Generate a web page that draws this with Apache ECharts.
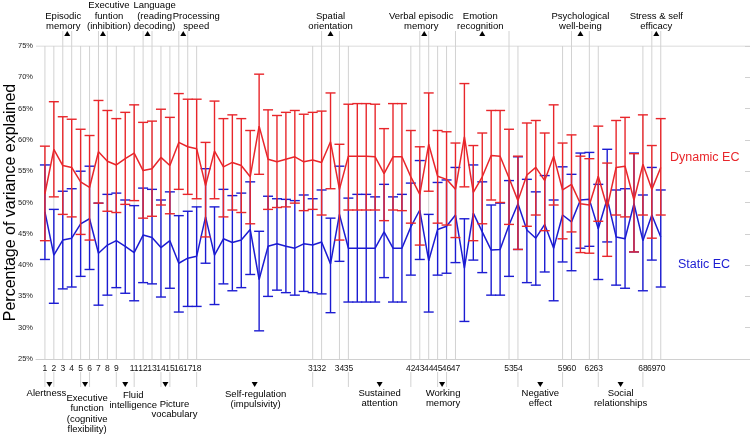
<!DOCTYPE html>
<html><head><meta charset="utf-8">
<script src="https://cdn.jsdelivr.net/npm/echarts@6/dist/echarts.min.js"></script>
<style>html,body{margin:0;padding:0;background:#fff}#c{width:750px;height:437px}</style>
</head><body><div id="c"></div>
<script>
const categories = [1,2,3,4,5,6,7,8,9,10,11,12,13,14,15,16,17,18,19,20,21,22,23,24,25,26,27,28,29,30,31,32,33,34,35,36,37,38,39,40,41,42,43,44,45,46,47,48,49,50,51,52,53,54,55,56,57,58,59,60,61,62,63,64,65,66,67,68,69,70];
const dynamicMean  = [51.4,58.5,55.9,55.6,53.3,52.4,58.1,56.6,56.0,57.0,57.9,55.1,55.4,57.2,55.9,59.6,58.9,58.6,52.7,58.2,55.7,56.4,55.9,54.1,62.2,56.9,56.5,56.9,57.3,56.5,56.8,56.4,59.7,52.1,57.4,57.4,57.4,57.3,54.6,57.3,57.3,54.1,51.3,59.3,54.2,53.7,52.1,60.5,51.6,54.1,57.5,57.4,53.9,50.3,54.4,55.6,53.5,57.4,52.0,52.9,49.8,49.6,54.2,49.2,55.6,55.8,50.4,56.1,52.1,55.6];
const dynamicUpper = [59.0,66.1,63.7,63.3,61.7,60.7,66.3,64.7,63.4,64.4,65.6,62.8,63.0,64.9,63.6,67.4,66.5,66.5,59.6,66.2,63.4,64.0,63.4,61.5,70.5,64.8,63.9,64.4,64.7,64.1,64.4,64.6,67.5,59.3,65.7,65.8,65.8,65.7,61.8,65.8,65.8,61.5,58.9,67.5,61.5,61.3,59.5,69.0,59.1,61.1,64.7,64.7,61.7,57.4,62.7,63.1,61.1,65.6,59.5,60.8,57.4,57.0,62.2,56.3,63.1,63.6,57.8,64.0,59.1,63.4];
const dynamicLower = [43.9,50.9,48.1,47.7,44.9,44.0,49.9,48.6,48.4,49.7,50.3,47.5,47.8,49.6,48.2,52.1,51.3,50.6,44.5,50.6,47.7,48.8,48.4,46.6,54.5,48.9,49.2,49.3,49.9,48.7,48.9,48.0,52.2,44.0,48.8,48.8,48.8,48.8,47.1,48.8,48.7,46.7,43.2,51.8,46.7,46.4,44.4,52.5,43.9,46.6,50.4,50.0,46.5,42.5,46.2,48.0,45.5,49.6,44.2,45.3,42.0,41.9,47.0,41.4,48.0,47.7,42.1,48.0,44.3,48.0];
const staticMean   = [48.5,41.6,44.0,44.3,46.6,47.4,41.9,43.2,43.9,43.0,42.0,44.8,44.4,42.8,43.9,40.3,41.1,41.4,47.7,41.6,44.2,43.6,44.0,45.7,37.7,43.0,43.4,43.0,42.7,43.4,43.2,43.7,40.2,48.1,42.7,42.7,42.7,42.7,45.3,42.7,42.7,46.1,48.8,40.7,45.7,46.2,48.0,39.5,48.3,45.3,42.4,42.5,46.4,49.8,45.6,44.3,46.5,42.7,48.0,46.9,50.4,50.5,45.8,50.6,44.5,44.2,49.8,43.9,48.0,44.5];
const staticUpper  = [56.0,48.9,51.8,52.2,55.0,55.8,49.9,51.3,51.5,50.4,49.5,52.3,52.1,50.4,51.7,47.9,48.6,49.3,55.4,49.3,52.1,51.1,51.5,53.3,45.4,51.0,50.6,50.5,50.3,51.2,50.6,52.0,47.5,55.8,50.7,51.3,51.3,50.9,52.9,50.9,51.3,53.1,56.7,48.1,53.2,53.6,55.6,47.4,56.0,53.3,49.6,49.9,53.5,57.3,53.7,51.7,54.3,50.4,55.7,54.5,57.9,58.0,52.9,58.5,52.0,52.2,57.9,51.2,55.6,52.0];
const staticLower  = [40.9,33.9,36.2,36.5,38.2,39.3,33.6,35.2,36.4,35.5,34.3,37.2,37.0,34.9,36.3,32.5,33.4,33.4,40.3,33.7,37.0,35.9,36.4,38.5,29.5,35.0,36.0,35.6,35.2,35.8,35.6,35.4,32.4,40.6,34.1,34.1,34.1,34.1,38.0,34.1,34.1,38.4,40.9,32.5,38.4,38.7,40.4,31.0,40.8,38.8,35.2,35.2,38.2,42.5,37.2,36.8,38.9,34.3,40.5,39.1,42.7,43.0,37.7,43.7,36.8,36.3,42.1,35.9,40.8,36.5];
const tickCategories = [1,2,3,4,5,6,7,8,9,11,12,13,14,15,16,17,18,31,32,34,35,42,43,44,45,46,47,53,54,59,60,62,63,68,69,70];
const topNames = ['Episodic\nmemory','Executive\nfuntion\n(inhibition)','Language\n(reading\ndecoding)','Processing\nspeed','Spatial\norientation','Verbal episodic\nmemory','Emotion\nrecognition','Psychological\nwell-being','Stress & self\nefficacy'];
const topFrom = [3,7,12,16,32,43,47,60,69];
const topTo   = [4,8,13,17,34,44,53,62,70];
const bottomNames = ['Alertness','Executive\nfunction\n(cognitive\nflexibility)','Fluid\nintelligence','Picture\nvocabulary','Self-regulation\n(impulsivity)','Sustained\nattention','Working\nmemory','Negative\neffect','Social\nrelationships'];
const bottomFrom = [1,5,9,14,18,35,45,54,63];
const bottomTo   = [2,6,11,15,31,42,46,59,68];
const seriesNames = ['Dynamic EC','Static EC'];

// layout tweaks (pixels) for annotation text
const topDx = [-4,6,7,13,0,-3,-2,0,0];
const bottomDx = [-3,2,8,9,1,0,1,0,0];
const bottomDy = [0,5,2,11,1,0,0,0,0];

const RED = '#e8262b', BLUE = '#1c1cd2', GRAY = '#d2d2d2';
const FONT = '"Liberation Sans", Arial, sans-serif';

function errRender(color){
  return function(params, api){
    const x = api.value(0);
    const hi = api.coord([x, api.value(1)]);
    const lo = api.coord([x, api.value(2)]);
    const h = 5;
    const st = {stroke: color, lineWidth: 1.4};
    return {type:'group', children:[
      {type:'line', shape:{x1:hi[0],y1:hi[1],x2:lo[0],y2:lo[1]}, style:st},
      {type:'line', shape:{x1:hi[0]-h,y1:hi[1],x2:hi[0]+h,y2:hi[1]}, style:st},
      {type:'line', shape:{x1:lo[0]-h,y1:lo[1],x2:lo[0]+h,y2:lo[1]}, style:st}
    ]};
  };
}
function annotRender(names, from, to, isTop, dxArr, dyArr){
  return function(params, api){
    const i = params.dataIndex;
    const yv = isTop ? 75 : 25;
    const a = api.coord([from[i], yv]);
    const b = api.coord([to[i], yv]);
    const mx = (a[0]+b[0])/2;
    const ls = {stroke: GRAY, lineWidth: 1};
    const ch = [];
    if (isTop){
      const y0 = a[1], y1 = a[1]-15;
      ch.push({type:'line', shape:{x1:a[0],y1:y0,x2:a[0],y2:y1}, style:ls});
      ch.push({type:'line', shape:{x1:b[0],y1:y0,x2:b[0],y2:y1}, style:ls});
      ch.push({type:'polygon', shape:{points:[[mx-3,y1+5],[mx+3,y1+5],[mx,y1]]}, style:{fill:'#000'}});
      ch.push({type:'text', x: mx+dxArr[i], y: y1+1, style:{text:names[i], fill:'#000', font:'9.5px '+FONT, align:'center', verticalAlign:'bottom', lineHeight:10.5}});
    } else {
      const y0 = a[1]+13, y1 = a[1]+28;
      ch.push({type:'line', shape:{x1:a[0],y1:y0,x2:a[0],y2:y1}, style:ls});
      ch.push({type:'line', shape:{x1:b[0],y1:y0,x2:b[0],y2:y1}, style:ls});
      ch.push({type:'polygon', shape:{points:[[mx-3,y1-5],[mx+3,y1-5],[mx,y1]]}, style:{fill:'#000'}});
      ch.push({type:'text', x: mx+dxArr[i], y: y1+1+(dyArr?dyArr[i]:0), style:{text:names[i], fill:'#000', font:'9.5px '+FONT, align:'center', verticalAlign:'top', lineHeight:10.5}});
    }
    return {type:'group', children:ch};
  };
}
function vlineRender(params, api){
  const x = api.value(0);
  const t = api.coord([x, 75]);
  const b = api.coord([x, 25]);
  return {type:'line', shape:{x1:t[0],y1:t[1],x2:b[0],y2:b[1]}, style:{stroke:GRAY, lineWidth:1}};
}

const zip = (a,b,c) => categories.map((x,k)=> c ? [x, a[k], b[k]] : [x, a[k]]);

const chart = echarts.init(document.getElementById('c'), null, {renderer:'canvas'});
chart.setOption({
  animation:false,
  backgroundColor:'#fff',
  grid:{left:36, right:0, top:46, bottom:78, containLabel:false, outerBoundsMode:'none'},
  xAxis:{type:'value', min:0, max:80, interval:1,
    axisLine:{show:true, lineStyle:{color:'#d0d0d0'}},
    axisTick:{show:false}, splitLine:{show:false},
    axisLabel:{fontFamily:FONT, fontSize:8.5, color:'#111', margin:5,
      formatter:v => tickCategories.indexOf(v) >= 0 ? String(v) : ''}},
  yAxis:[{type:'value', min:25, max:75, interval:5,
    name:'Percentage of variance explained', nameLocation:'middle', nameGap:17, nameMoveOverlap:false,
    nameTextStyle:{fontFamily:FONT, fontSize:16, color:'#000'},
    axisLine:{show:false}, axisTick:{show:false},
    splitLine:{show:false},
    axisLabel:{fontFamily:FONT, fontSize:7.5, color:'#222', margin:3, formatter:v => v + '%'}},
   {type:'value', min:25, max:75, interval:5, position:'right',
    axisLine:{show:false}, axisLabel:{show:false}, splitLine:{show:false},
    axisTick:{show:true, inside:true, length:5, lineStyle:{color:'#d0d0d0'}}}],
  graphic:[
    {type:'text', left:670, top:151, style:{text:seriesNames[0], fill:RED, font:'12.5px '+FONT}},
    {type:'text', left:678, top:258, style:{text:seriesNames[1], fill:BLUE, font:'12.5px '+FONT}}
  ],
  series:[
    {type:'custom', name:'vlines', renderItem:vlineRender, data:tickCategories.map(v=>[v,50]), z:1, silent:true},
    {type:'line', name:'topline', data:[[0,75],[80,75]], symbol:'none', lineStyle:{color:'#d0d0d0', width:1}, z:1, silent:true},
    {type:'custom', name:'topAnnot', renderItem:annotRender(topNames, topFrom, topTo, true, topDx), data:topFrom.map((v,k)=>[v,topTo[k],75]), encode:{x:[0,1], y:2}, clip:false, z:2, silent:true},
    {type:'custom', name:'bottomAnnot', renderItem:annotRender(bottomNames, bottomFrom, bottomTo, false, bottomDx, bottomDy), data:bottomFrom.map((v,k)=>[v,bottomTo[k],25]), encode:{x:[0,1], y:2}, clip:false, z:2, silent:true},
    {type:'custom', name:seriesNames[1]+' err', renderItem:errRender(BLUE), data:zip(staticUpper, staticLower, true), encode:{x:0, y:[1,2]}, z:3},
    {type:'line', name:seriesNames[1], data:zip(staticMean), symbol:'none', lineStyle:{color:BLUE, width:1.5}, z:4},
    {type:'custom', name:seriesNames[0]+' err', renderItem:errRender(RED), data:zip(dynamicUpper, dynamicLower, true), encode:{x:0, y:[1,2]}, z:5},
    {type:'line', name:seriesNames[0], data:zip(dynamicMean), symbol:'none', lineStyle:{color:RED, width:1.5}, z:6}
  ]
});
</script></body></html>
